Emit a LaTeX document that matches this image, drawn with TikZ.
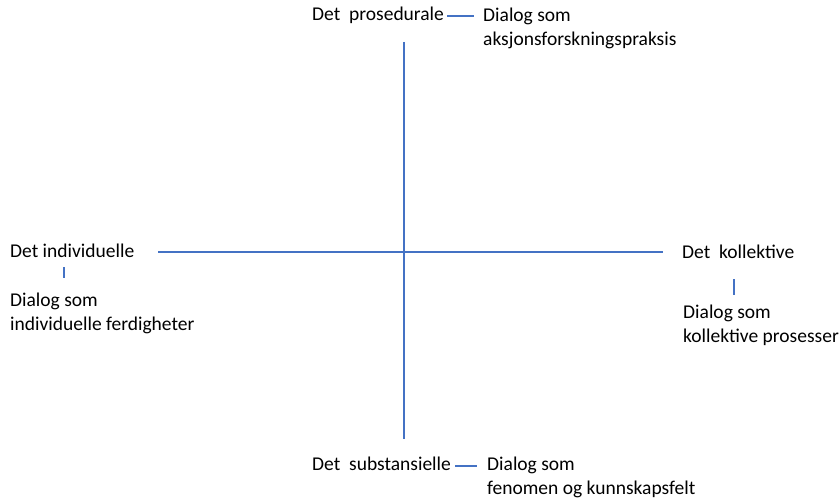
\documentclass[tikz,border=0pt]{standalone}
\usepackage{fontspec}
\setmainfont{Carlito}
\usepackage{tikz}
\usetikzlibrary{arrows}
\definecolor{axisblue}{HTML}{4472C4}

\begin{document}
\begin{tikzpicture}[x=1pt, y=-1pt,
	bluerule/.style={draw=axisblue, line width=1.5pt},
	every node/.style={inner sep=0pt, align=left,
		font=\fontsize{19.5}{24}\selectfont}]
		\useasboundingbox (0,0) rectangle (840,500);
		% axes
		\coordinate (top)    at (404,42);
		\coordinate (bottom) at (404,439);
		\coordinate (left)   at (158,252);
		\coordinate (right)  at (663,252);
		\coordinate (indtick) at (64,0);
		\coordinate (koltick) at (734,0);
		\coordinate (substick) at (0,466);
		\draw[bluerule] (top) -- (bottom);
		\draw[bluerule] (left) -- (right);
		\node[anchor=base west] (pros)    at (312,21)  {Det\ \ prosedurale};
		\node[anchor=north west] (prosdia) at (483,7.3) {Dialog som\\aksjonsforskningspraksis};
		\node[anchor=base west] (subs)    at (312,470) {Det\ \ substansielle};
		\node[anchor=north west] (subsdia) at (487,456.3) {Dialog som\\fenomen og kunnskapsfelt};
		\node[anchor=base west] (ind)     at (10,257)  {Det individuelle};
		\node[anchor=north west] (inddia)  at (10,292.3) {Dialog som\\individuelle ferdigheter};
		\node[anchor=base west] (kol)     at (682,258) {Det\ \ kollektive};
		\node[anchor=north west] (koldia)  at (683,304.3) {Dialog som\\kollektive prosesser};
		\draw[bluerule, shorten <=3pt, shorten >=9pt] (pros.east) -- (pros.east -| prosdia.west);
		\draw[bluerule, shorten <=4pt, shorten >=10pt] (subs.east |- substick) -- (subsdia.west |- substick);
		\draw[bluerule, shorten <=10pt, shorten >=14pt] (ind.south -| indtick) -- (inddia.north -| indtick);
		\draw[bluerule, shorten <=21pt, shorten >=9pt] (kol.south -| koltick) -- (koldia.north -| koltick);
		
		\end{tikzpicture}
\end{document}
